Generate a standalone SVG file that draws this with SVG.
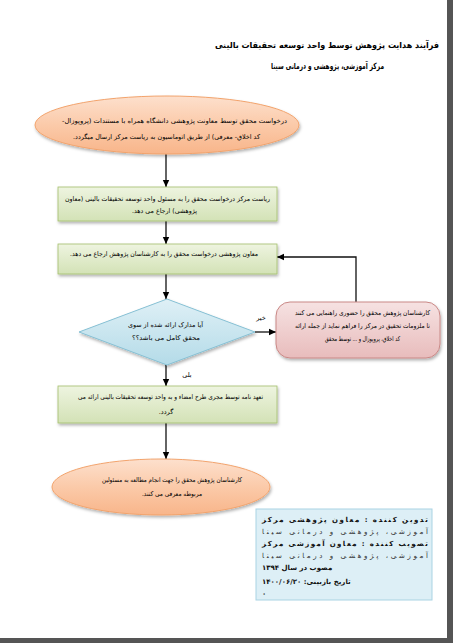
<svg xmlns="http://www.w3.org/2000/svg" width="453" height="643" viewBox="0 0 453 643">
<defs>
<linearGradient id="gOr" x1="0" y1="0" x2="0" y2="1"><stop offset="0" stop-color="#fde0cd"/><stop offset="0.5" stop-color="#fbcaa9"/><stop offset="1" stop-color="#f8b58a"/></linearGradient>
<linearGradient id="gGr" x1="0" y1="0" x2="0" y2="1"><stop offset="0" stop-color="#eef4e0"/><stop offset="1" stop-color="#d3e2b6"/></linearGradient>
<linearGradient id="gBl" x1="0" y1="0" x2="0" y2="1"><stop offset="0" stop-color="#dff0f6"/><stop offset="1" stop-color="#b4dbe8"/></linearGradient>
<linearGradient id="gPk" x1="0" y1="0" x2="0" y2="1"><stop offset="0" stop-color="#f6e2e2"/><stop offset="1" stop-color="#e8bcbc"/></linearGradient>
<filter id="sh" x="-10%" y="-20%" width="125%" height="150%"><feDropShadow dx="1" dy="2" stdDeviation="1.5" flood-color="#000" flood-opacity="0.3"/></filter>
<marker id="ah" markerUnits="userSpaceOnUse" markerWidth="8" markerHeight="8" refX="7" refY="4" orient="auto"><path d="M0,0.8 L7,4 L0,7.2 z" fill="#000"/></marker>
</defs>
<style>
text{direction:rtl}
.t{font-family:"DejaVu Sans",sans-serif;font-size:6.5px;fill:#000;text-anchor:middle}
.ti{font-family:"DejaVu Sans",sans-serif;font-size:8.5px;font-weight:bold;fill:#000;text-anchor:start}
.bx{font-family:"DejaVu Sans",sans-serif;font-size:7px;fill:#333}
.bb{font-family:"DejaVu Sans",sans-serif;font-size:7px;font-weight:bold;fill:#111}
.c{fill:none;stroke:#111;stroke-width:1.3;marker-end:url(#ah)}
.lb{font-family:"DejaVu Sans",sans-serif;font-size:6.5px;fill:#000;text-anchor:middle}
</style>
<rect width="453" height="643" fill="#fff"/>
<rect x="447" y="0" width="6" height="643" fill="#555"/>
<rect x="0" y="638" width="453" height="5" fill="#555"/>

<g id="title">
<text class="ti" x="439" y="48" textLength="224" lengthAdjust="spacingAndGlyphs">فرآیند هدایت پژوهش توسط واحد توسعه تحقیقات بالینی</text>
<text class="ti" x="384" y="69" textLength="113" lengthAdjust="spacingAndGlyphs">مرکز آموزشی، پژوهشی و درمانی سینا</text>
</g>

<g id="connectors">
<line class="c" x1="166" y1="154" x2="166" y2="187"/>
<line class="c" x1="166" y1="221" x2="166" y2="244"/>
<line class="c" x1="166" y1="274" x2="166" y2="299"/>
<line class="c" x1="166" y1="365" x2="166" y2="386"/>
<line class="c" x1="166" y1="423" x2="166" y2="459"/>
<line class="c" x1="255" y1="332" x2="276" y2="332"/>
<polyline class="c" points="356,302 356,257 277,257"/>
<text class="lb" x="261" y="320">خیر</text>
<text class="lb" x="187" y="377">بلی</text>
</g>

<g id="start">
<ellipse cx="167" cy="125" rx="132" ry="29" fill="url(#gOr)" stroke="#f2a36c" stroke-width="1" filter="url(#sh)"/>
<text class="t" x="174.5" y="123" textLength="225" lengthAdjust="spacingAndGlyphs">درخواست محقق توسط معاونت پژوهشی دانشگاه همراه با مستندات (پروپوزال-</text>
<text class="t" x="166.5" y="139" textLength="187" lengthAdjust="spacingAndGlyphs">کد اخلاق- معرفی) از طریق اتوماسیون به ریاست مرکز ارسال میگردد.</text>
</g>

<g id="step1">
<rect x="58" y="187" width="219" height="34" fill="url(#gGr)" stroke="#a4bf6c" stroke-width="0.8" filter="url(#sh)"/>
<text class="t" x="167.5" y="200.5" textLength="205" lengthAdjust="spacingAndGlyphs">ریاست مرکز درخواست محقق را به مسئول واحد توسعه تحقیقات بالینی (معاون</text>
<text class="t" x="164.5" y="212.5" textLength="65" lengthAdjust="spacingAndGlyphs">پژوهشی) ارجاع می دهد.</text>
</g>

<g id="step2">
<rect x="58" y="244" width="219" height="30" fill="url(#gGr)" stroke="#a4bf6c" stroke-width="0.8" filter="url(#sh)"/>
<text class="t" x="164" y="255.5" textLength="188" lengthAdjust="spacingAndGlyphs">معاون پژوهشی درخواست محقق را به کارشناسان پژوهش ارجاع می دهد.</text>
</g>

<g id="decision">
<polygon points="167,299 255,332 167,365 79,332" fill="url(#gBl)" stroke="#86c0d4" stroke-width="1" filter="url(#sh)"/>
<text class="t" x="165.5" y="326.5" textLength="75" lengthAdjust="spacingAndGlyphs">آیا مدارک ارائه شده از سوی</text>
<text class="t" x="166" y="339.5" textLength="68" lengthAdjust="spacingAndGlyphs">محقق کامل می باشد؟؟</text>
</g>

<g id="guidance">
<rect x="276" y="302" width="164" height="56" rx="14" fill="url(#gPk)" stroke="#c98886" stroke-width="1" filter="url(#sh)"/>
<text class="t" x="362.5" y="314.5" textLength="135" lengthAdjust="spacingAndGlyphs">کارشناسان پژوهش محقق را حضوری راهنمایی می کنند</text>
<text class="t" x="362.5" y="327.5" textLength="135" lengthAdjust="spacingAndGlyphs">تا ملزومات  تحقیق در مرکز را فراهم نماید از جمله ارائه</text>
<text class="t" x="362.5" y="340.5" textLength="75" lengthAdjust="spacingAndGlyphs">کد اخلاق، پروپوزال و ... توسط محقق</text>
</g>

<g id="step3">
<rect x="58" y="386" width="219" height="37" fill="url(#gGr)" stroke="#a4bf6c" stroke-width="0.8" filter="url(#sh)"/>
<text class="t" x="170.5" y="398.5" textLength="185" lengthAdjust="spacingAndGlyphs">تعهد نامه توسط مجری طرح امضاء و به واحد توسعه تحقیقات بالینی ارائه می</text>
<text class="t" x="166" y="413.5">گردد.</text>
</g>

<g id="end">
<ellipse cx="161" cy="487" rx="109" ry="28" fill="url(#gOr)" stroke="#f2a36c" stroke-width="1" filter="url(#sh)"/>
<text class="t" x="172" y="481.5" textLength="140" lengthAdjust="spacingAndGlyphs">کارشناسان پژوهش محقق را جهت انجام مطالعه به مسئولین</text>
<text class="t" x="172" y="495.5" textLength="60" lengthAdjust="spacingAndGlyphs">مربوطه معرفی می کنند.</text>
</g>

<g id="approval">
<rect x="256" y="509" width="176" height="91" fill="#ddeff6" stroke="#a9d3e3" stroke-width="1"/>
<text class="bb" x="428" y="522" textLength="166" lengthAdjust="spacing">تدوین کننده : معاون پژوهشی مرکز</text>
<text class="bx" x="428" y="534" textLength="166" lengthAdjust="spacing">آموزشی، پژوهشی و درمانی سینا</text>
<text class="bb" x="428" y="546" textLength="166" lengthAdjust="spacing">تصویب کننده : معاون آموزشی مرکز</text>
<text class="bx" x="428" y="558" textLength="166" lengthAdjust="spacing">آموزشی، پژوهشی و درمانی سینا</text>
<text class="bb" x="262" y="570" font-size="6" text-anchor="end">مصوب در سال ۱۳۹۴</text>
<text class="bb" x="262" y="584" font-size="6" text-anchor="end">تاریخ بازبینی: ۱۴۰۰/۰۶/۲۰</text>
<text class="bb" x="262" y="596" font-size="6" text-anchor="end">۰</text>
</g>
</svg>
